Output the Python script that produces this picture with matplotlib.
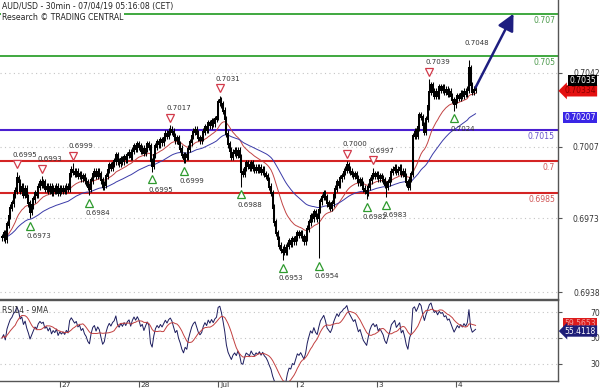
import numpy as np
import pandas as pd
import matplotlib
matplotlib.use("Agg")
import matplotlib.pyplot as plt
from matplotlib.transforms import blended_transform_factory, ScaledTranslation

plt.rcParams['font.family'] = ['DejaVu Sans']

# ---------------- data ----------------
# 30-min closes, in pips (price * 10000)
close_pips = [
    6964, 6966, 6963, 6970, 6974, 6978, 6980, 6984, 6986, 6992, 6990, 6986,
    6988, 6984, 6987, 6983, 6980, 6976, 6979, 6982, 6985, 6984, 6988, 6990,
    6989, 6990, 6987, 6988, 6986, 6988, 6985, 6987, 6986, 6988, 6985, 6987,
    6986, 6987, 6986, 6988, 6987, 6994, 6996, 6995, 6994, 6995, 6993, 6994,
    6992, 6993, 6991, 6990, 6988, 6987, 6991, 6994, 6995, 6993, 6995, 6994,
    6991, 6988, 6989, 6993, 6996, 6998, 6997, 6999, 7000, 7003, 7000, 6999,
    7001, 7000, 7002, 7001, 7003, 7004, 7002, 7005, 7007, 7006, 7008, 7007,
    7005, 7006, 7004, 7006, 7008, 7007, 7000, 6998, 7003, 7007, 7009, 7008,
    7010, 7009, 7011, 7013, 7012, 7014, 7015, 7014, 7012, 7010, 7011, 7008,
    7006, 7003, 7001, 7003, 7002, 7006, 7009, 7012, 7014, 7015, 7013, 7011,
    7010, 7011, 7014, 7016, 7015, 7018, 7017, 7019, 7018, 7020, 7021, 7028,
    7029, 7027, 7024, 7020, 7013, 7008, 7005, 7002, 7004, 7005, 7003, 7005,
    7002, 6995, 6994, 6997, 6999, 6998, 6997, 6999, 6997, 6996, 6997, 6996,
    6997, 6995, 6996, 6994, 6993, 6991, 6988, 6985, 6978, 6971, 6966, 6963,
    6960, 6958, 6957, 6959, 6957, 6960, 6962, 6961, 6963, 6962, 6964, 6966,
    6965, 6966, 6964, 6962, 6964, 6968, 6971, 6974, 6973, 6976, 6974, 6973,
    6977, 6981, 6983, 6985, 6983, 6980, 6979, 6978, 6980, 6984, 6987, 6990,
    6989, 6992, 6993, 6995, 6996, 6998, 6996, 6995, 6994, 6993, 6994, 6992,
    6990, 6991, 6989, 6987, 6986, 6985, 6988, 6991, 6993, 6994, 6993, 6994,
    6992, 6993, 6992, 6991, 6989, 6988, 6990, 6992, 6995, 6996, 6997, 6995,
    6996, 6997, 6994, 6995, 6993, 6990, 6988, 6992, 6994, 7012, 7014, 7012,
    7016, 7022, 7021, 7017, 7014, 7020, 7026, 7033, 7036, 7033, 7031, 7033,
    7031, 7035, 7034, 7035, 7033, 7034, 7032, 7033, 7031, 7029, 7027, 7029,
    7031, 7030, 7032, 7031, 7033, 7032, 7034, 7044, 7036, 7033, 7034, 7035,
]

day_starts = [35, 83, 131, 179, 227, 275]
day_labels = ["27", "28", "Jul", "2", "3", "4"]

price_ticks = [0.7042, 0.7007, 0.6973, 0.6938]
rsi_ticks = [70, 50, 30]

resist_levels = [0.707, 0.705]
pivot_level = [0.7015]
support_levels = [0.7, 0.6985]

swing_high_idx = [9, 24, 43, 102, 132, 209, 225, 259]
swing_high_val = [0.6995, 0.6993, 0.6999, 0.7017, 0.7031, 0.7000, 0.6997, 0.7039]
swing_low_idx = [17, 53, 91, 110, 145, 170, 192, 221, 233, 274]
swing_low_val = [0.6973, 0.6984, 0.6995, 0.6999, 0.6988, 0.6953, 0.6954, 0.6982, 0.6983, 0.7024]
last_high_idx = [283]
last_high_val = [0.7048]

target_idx = 310
target_val = 0.707

price_tags = [0.7035, 0.70334, 0.70207]
rsi_tags = [59.5653, 55.4118]

# ---------------- derived series ----------------
close = np.array(close_pips, dtype=float) / 10000.0
n = len(close)
idx = np.arange(n)
opn = np.concatenate([[close[0]], close[:-1]])
wick = 0.00016
hi = np.maximum(opn, close) + wick
lo = np.minimum(opn, close) - wick
for i, v in zip(swing_high_idx + last_high_idx, swing_high_val + last_high_val):
    hi[i] = max(hi[i], v)
for i, v in zip(swing_low_idx, swing_low_val):
    lo[i] = min(lo[i], v)

s = pd.Series(close)
ema_fast = s.ewm(span=20, adjust=False).mean().values
ema_slow = s.ewm(span=50, adjust=False).mean().values

# RSI 14 (Wilder) seeded with equal average gain / loss
delta = np.diff(close, prepend=close[0])
gain = np.clip(delta, 0, None)
loss = np.clip(-delta, 0, None)
ag, al = 0.00015, 0.00015
rsi = np.zeros(n)
for k in range(n):
    ag = (ag * 13 + gain[k]) / 14
    al = (al * 13 + loss[k]) / 14
    rsi[k] = 100 - 100 / (1 + ag / al)
rsi_ma = pd.Series(rsi).rolling(9, min_periods=1).mean().values

# ---------------- figure ----------------
W, H = 600, 392
fig = plt.figure(figsize=(W / 100, H / 100), dpi=100)
fig.patch.set_facecolor('white')

ax = fig.add_axes([0, (H - 299) / H, 558 / W, 299 / H])
axr = fig.add_axes([0, (H - 381) / H, 558 / W, 81 / H])

xl = (-2 / 1.65, (558 - 2) / 1.65)
px_per_unit = 21087.0
ax.set_xlim(*xl)
ax.set_ylim(0.7042 - 226.3 / px_per_unit, 0.7042 + 72.7 / px_per_unit)
axr.set_xlim(*xl)
axr.set_ylim(16.5, 79.6)

edge = '#555555'
for a in (ax, axr):
    for sp in a.spines.values():
        sp.set_color(edge)
        sp.set_linewidth(1.0)
ax.spines['top'].set_visible(False)
ax.spines['left'].set_visible(False)
axr.spines['left'].set_visible(False)

dot = (0, (1, 3))
for t in price_ticks:
    ax.axhline(t, color='#c4c4c4', lw=0.8, ls=dot, zorder=0)
for t in rsi_ticks:
    axr.axhline(t, color='#c4c4c4', lw=0.8, ls=dot, zorder=0)

# horizontal levels
lab_tr = ScaledTranslation(-3 / 100, -2 / 100, fig.dpi_scale_trans)
def level(v, lc, tc, lw):
    ax.axhline(v, color=lc, lw=lw, zorder=1)
    ax.text(1.0, v, f"{v:g}", transform=blended_transform_factory(ax.transAxes, ax.transData) + lab_tr,
            ha='right', va='top', fontsize=5.6, color=tc, zorder=5)
for v in resist_levels:
    level(v, '#1f9a1f', '#4c9a4c', 1.2)
for v in pivot_level:
    level(v, '#4a1fd0', '#6651cc', 1.5)
for v in support_levels:
    level(v, '#d42424', '#d05656', 1.5)

# moving averages
ax.plot(idx, ema_fast, color='#c24444', lw=0.7, zorder=2)
ax.plot(idx, ema_slow, color='#3a3aa8', lw=0.7, zorder=2)

# bars
ax.vlines(idx, lo, hi, color='black', lw=0.75, zorder=3)
ax.vlines(idx, np.minimum(opn, close) - 0.00005, np.maximum(opn, close) + 0.00005,
          color='black', lw=1.45, zorder=3)

# swing markers
up7 = ax.transData + ScaledTranslation(0, 7.5 / 100, fig.dpi_scale_trans)
dn7 = ax.transData + ScaledTranslation(0, -7.5 / 100, fig.dpi_scale_trans)
ax.plot(swing_high_idx, swing_high_val, 'v', transform=up7, ms=5.5, mfc='white',
        mec='#d23a4a', mew=0.9, zorder=4, clip_on=False)
ax.plot(swing_low_idx, swing_low_val, '^', transform=dn7, ms=5.5, mfc='white',
        mec='#2e9a2e', mew=0.9, zorder=4, clip_on=False)
up_t = ax.transData + ScaledTranslation(-4 / 100, 17 / 100, fig.dpi_scale_trans)
dn_t = ax.transData + ScaledTranslation(-4 / 100, -18 / 100, fig.dpi_scale_trans)
for i, v in zip(swing_high_idx + last_high_idx, swing_high_val + last_high_val):
    ax.text(i, v, f"{v:.4f}", transform=up_t, ha='left', va='center', fontsize=5.0,
            color='#333333', zorder=5)
for i, v in zip(swing_low_idx, swing_low_val):
    ax.text(i, v, f"{v:.4f}", transform=dn_t, ha='left', va='center', fontsize=5.0,
            color='#333333', zorder=5)

# projection arrow
ax.annotate('', xy=(target_idx, target_val), xytext=(idx[-1], close[-1]),
            arrowprops=dict(arrowstyle='-|>,head_length=1.0,head_width=0.5', color='#1e1e80',
                            lw=1.8, shrinkA=0, shrinkB=0, mutation_scale=10), zorder=6)

# price axis
ax.set_xticks([])
ax.yaxis.tick_right()
ax.set_yticks(price_ticks)
ax.set_yticklabels([f"{t:.4f}" for t in price_ticks])
ax.tick_params(axis='y', length=3, color=edge, labelsize=5.5, labelcolor='#333333', pad=27)
for lb in ax.get_yticklabels():
    lb.set_ha('right')

tag_tr = blended_transform_factory(ax.transAxes, ax.transData)
tx = 596 / 558
ax.text(tx, price_tags[0], f"{price_tags[0]:.4f}",
        transform=tag_tr + ScaledTranslation(0, 7 / 100, fig.dpi_scale_trans),
        ha='right', va='center', fontsize=5.5, color='white', zorder=10, clip_on=False,
        bbox=dict(boxstyle='square,pad=0.15', fc='black', ec='none'))
ax.text(tx, price_tags[1], f"{price_tags[1]:.5f}", transform=tag_tr,
        ha='right', va='center', fontsize=5.5, color='#8a0000', zorder=9, clip_on=False,
        bbox=dict(boxstyle='larrow,pad=0.15', fc='#e41010', ec='none'))
ax.text(tx, price_tags[2], f"{price_tags[2]:.5f}", transform=tag_tr,
        ha='right', va='center', fontsize=5.5, color='white', zorder=9, clip_on=False,
        bbox=dict(boxstyle='square,pad=0.15', fc='#3a26e6', ec='none'))

# RSI panel
axr.plot(idx, rsi, color='#1c1c5e', lw=0.7, zorder=3)
axr.plot(idx, rsi_ma, color='#c24040', lw=0.7, zorder=3)
axr.text(2 / 558, 0.93, "RSI14 - 9MA", transform=axr.transAxes, ha='left', va='top',
         fontsize=5.5, color='#333333')
axr.yaxis.tick_right()
axr.set_yticks(rsi_ticks)
axr.set_yticklabels([str(t) for t in rsi_ticks])
axr.tick_params(axis='y', length=3, color=edge, labelsize=5.5, labelcolor='#333333', pad=27)
for lb in axr.get_yticklabels():
    lb.set_ha('right')
rtr = blended_transform_factory(axr.transAxes, axr.transData)
axr.text(tx, rsi_tags[0], f"{rsi_tags[0]:.4f}",
         transform=rtr + ScaledTranslation(0, 2 / 100, fig.dpi_scale_trans),
         ha='right', va='center', fontsize=5.5, color='#f0a0a0', zorder=9, clip_on=False,
         bbox=dict(boxstyle='square,pad=0.15', fc='#dd1c1c', ec='none'))
axr.text(tx, rsi_tags[1], f"{rsi_tags[1]:.4f}", transform=rtr,
         ha='right', va='center', fontsize=5.5, color='white', zorder=10, clip_on=False,
         bbox=dict(boxstyle='larrow,pad=0.15', fc='#1e1e78', ec='none'))

axr.set_xticks(day_starts)
axr.set_xticklabels(day_labels)
axr.tick_params(axis='x', length=4, color=edge, labelsize=5.4, labelcolor='#333333', pad=-3.2)
for lb in axr.get_xticklabels():
    lb.set_ha('left')
    lb.set_transform(lb.get_transform() + ScaledTranslation(2 / 100, 0, fig.dpi_scale_trans))

# header
fig.text(2 / W, 1 - 6 / H, "AUD/USD - 30min - 07/04/19 05:16:08 (CET)", ha='left', va='center',
         fontsize=5.6, color='#222222')
fig.text(2 / W, 1 - 17 / H, "Research \u00a9 TRADING CENTRAL", ha='left', va='center',
         fontsize=5.6, color='#222222',
         bbox=dict(boxstyle='square,pad=0.1', fc='white', ec='none'))

fig.savefig('out.png', dpi=100, facecolor='white')
